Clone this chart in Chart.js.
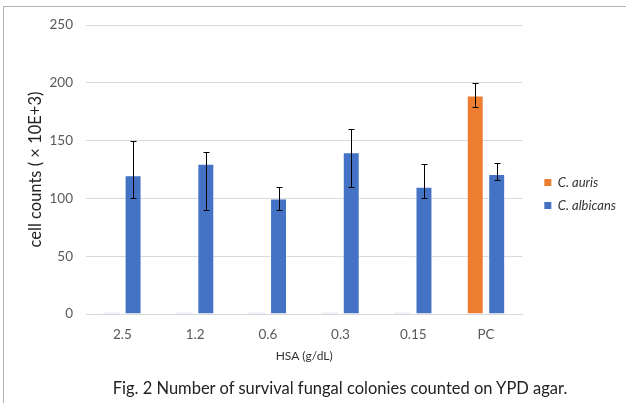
<!DOCTYPE html>
<html>
<head>
<meta charset="utf-8">
<script src="https://cdn.jsdelivr.net/npm/chart.js@4"></script>
<style>
  body { margin: 0; background: #fff; }
  #wrap { position: relative; width: 626px; height: 403px; overflow: hidden; }
  #frame { position: absolute; left: 3px; top: 6px; right: 0; bottom: 0;
           border-top: 1px solid #b4b4b4; border-left: 1px solid #b4b4b4; pointer-events: none; }
  canvas { position: absolute; left: 0; top: 0; }
  #caption { position: absolute; left: 340px; top: 378px; transform: translateX(-50%);
             white-space: nowrap; font-family: Lato, 'Noto Sans', sans-serif; font-size: 16.5px;
             line-height: 20px; color: #222; }
</style>
</head>
<body>
<div id="wrap">
  <canvas id="myChart" width="626" height="403"></canvas>
  <div id="frame"></div>
  <div id="caption">Fig. 2 Number of survival fungal colonies counted on YPD agar.</div>
</div>
<script>
// Sample data
var categories = ['2.5', '1.2', '0.6', '0.3', '0.15', 'PC'];
var aurisCounts = [1, 1, 1, 1, 1, 189];
var aurisHigh = [null, null, null, null, null, 200];
var aurisLow = [null, null, null, null, null, 179];
var albicansCounts = [120, 130, 100, 140, 110, 121];
var albicansHigh = [150, 140, 110, 160, 130, 131];
var albicansLow = [100, 90, 90, 110, 100, 116];
var yTicks = [0, 50, 100, 150, 200, 250];

var font = "Lato, 'Noto Sans', sans-serif";
var orange = '#ED7D31';
var blue = '#4472C4';

// error bars drawn from the arrays above through the chart's scales
var errorBars = {
    id: 'errorBars',
    afterLayout: function (chart) {
        // nudge the legend a little away from the plot, like the original
        chart.legend.left += 12;
        chart.legend.right += 12;
    },
    afterDatasetsDraw: function (chart) {
        var ctx = chart.ctx;
        var y = chart.scales.y;
        var ranges = [[aurisLow, aurisHigh], [albicansLow, albicansHigh]];
        ctx.save();
        ctx.strokeStyle = '#000';
        ctx.lineWidth = 1;
        ranges.forEach(function (r, di) {
            var meta = chart.getDatasetMeta(di);
            meta.data.forEach(function (bar, i) {
                if (r[0][i] == null) return;
                var x = Math.round(bar.x) + 0.5;
                var yl = Math.round(y.getPixelForValue(r[0][i])) + 0.5;
                var yh = Math.round(y.getPixelForValue(r[1][i])) + 0.5;
                ctx.beginPath();
                ctx.moveTo(x, yl); ctx.lineTo(x, yh);
                ctx.moveTo(x - 3, yl); ctx.lineTo(x + 3, yl);
                ctx.moveTo(x - 3, yh); ctx.lineTo(x + 3, yh);
                ctx.stroke();
            });
        });
        ctx.restore();
    }
};

var data = {
    labels: categories,
    datasets: [
        {
            label: 'C. auris',
            data: aurisCounts,
            backgroundColor: function (c) {
                return (c.type === 'data' && c.raw < 5) ? '#d6dff0' : orange;
            },
            borderColor: 'rgba(255,255,255,0.5)',
            borderWidth: function (c) {
                return (c.type === 'data' && c.raw < 5) ? 0 : 1;
            },
        },
        {
            label: 'C. albicans',
            data: albicansCounts,
            backgroundColor: blue,
            borderColor: 'rgba(255,255,255,0.5)',
            borderWidth: 1,
        },
    ],
};

var options = {
    responsive: false,
    animation: false,
    layout: { padding: { left: 0, right: 12, top: 25, bottom: 40 } },
    categoryPercentage: 0.59,
    barPercentage: 0.79,
    plugins: {
        legend: {
            position: 'right',
            labels: {
                boxWidth: 7,
                boxHeight: 7,
                padding: 10,
                color: '#333',
                font: { family: font, size: 13, style: 'italic' },
                generateLabels: function (chart) {
                    var items = Chart.defaults.plugins.legend.labels.generateLabels(chart);
                    items[0].fillStyle = orange;
                    items[1].fillStyle = blue;
                    items.forEach(function (it) { it.strokeStyle = 'rgba(0,0,0,0)'; it.lineWidth = 0; });
                    return items;
                },
            },
        },
        tooltip: { enabled: false },
    },
    scales: {
        x: {
            afterFit: function (axis) { axis.height = 49; },
            grid: { display: false },
            border: { color: '#d9d9d9' },
            ticks: { color: '#595959', font: { family: font, size: 13.5 }, padding: 5 },
            title: {
                display: true,
                text: 'HSA (g/dL)',
                color: '#333',
                font: { family: font, size: 12 },
                padding: { top: 0, bottom: 0 },
            },
        },
        y: {
            min: 0,
            max: 250,
            afterBuildTicks: function (axis) {
                axis.ticks = yTicks.map(function (v) { return { value: v }; });
            },
            afterFit: function (axis) { axis.width = 86; },
            grid: { color: '#d9d9d9', drawTicks: false },
            border: { display: false },
            ticks: { color: '#595959', font: { family: font, size: 13.5 }, padding: 13 },
            title: {
                display: true,
                text: 'cell counts ( × 10E+3)',
                color: '#222',
                font: { family: font, size: 16.5 },
                padding: { top: 26, bottom: 0 },
            },
        },
    },
};

var ctx = document.getElementById('myChart').getContext('2d');
var myBarChart = new Chart(ctx, {
    type: 'bar',
    data: data,
    options: options,
    plugins: [errorBars],
});
</script>
</body>
</html>
